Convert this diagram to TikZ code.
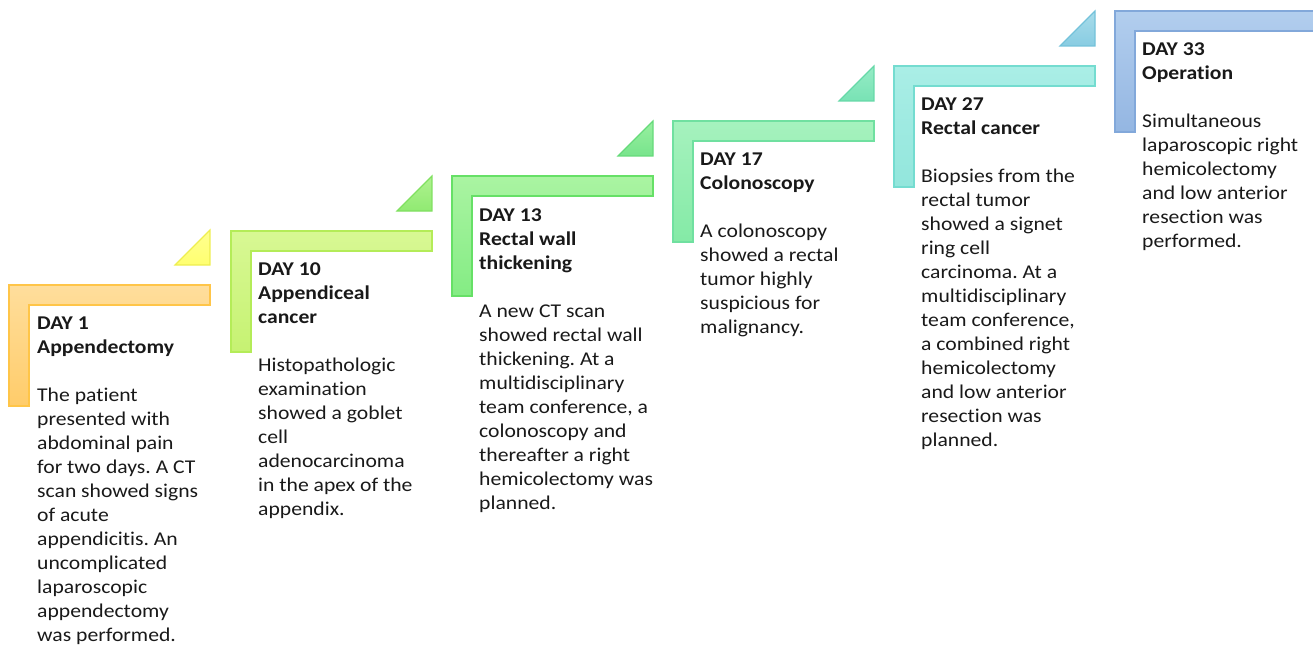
\documentclass[tikz,border=0pt]{standalone}
\usepackage{fontspec}
\setmainfont{Carlito}[FakeStretch=1.11, Ligatures=NoCommon]
\frenchspacing
\definecolor{aT}{HTML}{FFDE9C}\definecolor{aB}{HTML}{FFCC6A}\definecolor{aD}{HTML}{FFC548}
\definecolor{atT}{HTML}{FFFF90}\definecolor{atB}{HTML}{FFFF70}\definecolor{atD}{HTML}{EEEE50}
\definecolor{bT}{HTML}{D8F894}\definecolor{bB}{HTML}{C6F272}\definecolor{bD}{HTML}{B4EC58}
\definecolor{btT}{HTML}{B0F290}\definecolor{btB}{HTML}{90EA72}\definecolor{btD}{HTML}{80E060}
\definecolor{cT}{HTML}{AAF4A2}\definecolor{cB}{HTML}{84EC84}\definecolor{cD}{HTML}{66E066}
\definecolor{ctT}{HTML}{98F0A0}\definecolor{ctB}{HTML}{78E48C}\definecolor{ctD}{HTML}{66DA7A}
\definecolor{dT}{HTML}{A6F2BE}\definecolor{dB}{HTML}{84EAA6}\definecolor{dD}{HTML}{70E0A0}
\definecolor{dtT}{HTML}{96ECC6}\definecolor{dtB}{HTML}{78E2B4}\definecolor{dtD}{HTML}{66D8A8}
\definecolor{eT}{HTML}{AAEEE6}\definecolor{eB}{HTML}{92E6DC}\definecolor{eD}{HTML}{74DCD0}
\definecolor{etT}{HTML}{A8DCEA}\definecolor{etB}{HTML}{88CCE2}\definecolor{etD}{HTML}{74C2DA}
\definecolor{fT}{HTML}{B2CEEE}\definecolor{fB}{HTML}{94B6E2}\definecolor{fD}{HTML}{82A8DA}
\newcommand\stepL[5]{%
  \draw[stepbar, draw=#5D, top color=#5T, bottom color=#5B]
    (#1,#2) -- (#3,#2) -- (#3,#2+20) -- (#1+20,#2+20) -- (#1+20,#4) -- (#1,#4) -- cycle;}
\newcommand\stepTri[3]{%
  \draw[stepbar, draw=#3D, top color=#3T, bottom color=#3B]
    (#1,#2-55) -- (#1,#2-20) -- (#1-35,#2-20) -- cycle;}
\begin{document}
\begin{tikzpicture}[x=1bp,y=-1bp,
  stepbar/.style={line width=1.1bp, line join=miter},
  steptext/.style={anchor=north west, inner sep=0pt, align=left,
    font=\fontsize{19.5bp}{24bp}\selectfont\frenchspacing, text=black!90}]
\useasboundingbox (0,0) rectangle (1313,646);
% L-shaped bars
\stepL{9}{285}{210}{406}{a}
\stepTri{210}{285}{at}
\stepL{231}{231}{432}{352}{b}
\stepTri{432}{231}{bt}
\stepL{452}{176}{653}{296}{c}
\stepTri{653}{176}{ct}
\stepL{673}{121}{874}{242}{d}
\stepTri{874}{121}{dt}
\stepL{894}{66}{1095}{187}{e}
\stepTri{1095}{66}{et}
\stepL{1115}{11}{1330}{132}{f}
% texts
\node[steptext] (t1) at (37,316.5) {\textbf{DAY 1}\\\textbf{Appendectomy}\\[24bp]
The patient\\presented with\\abdominal pain\\for two days. A CT\\scan showed signs\\of acute\\appendicitis. An\\uncomplicated\\laparoscopic\\appendectomy\\was performed.};
\node[steptext] (t2) at (258,262.5) {\textbf{DAY 10}\\\textbf{Appendiceal}\\\textbf{cancer}\\[24bp]
Histopathologic\\examination\\showed a goblet\\cell\\adenocarcinoma\\in the apex of the\\appendix.};
\node[steptext] (t3) at (479,208.5) {\textbf{DAY 13}\\\textbf{Rectal wall}\\\textbf{thickening}\\[24bp]
A new CT scan\\showed rectal wall\\thickening. At a\\multidisciplinary\\team conference, a\\colonoscopy and\\thereafter a right\\hemicolectomy was\\planned.};
\node[steptext] (t4) at (700,152.5) {\textbf{DAY 17}\\\textbf{Colonoscopy}\\[24bp]
A colonoscopy\\showed a rectal\\tumor highly\\suspicious for\\malignancy.};
\node[steptext] (t5) at (921,97.5) {\textbf{DAY 27}\\\textbf{Rectal cancer}\\[24bp]
Biopsies from the\\rectal tumor\\showed a signet\\ring cell\\carcinoma. At a\\multidisciplinary\\team conference,\\a combined right\\hemicolectomy\\and low anterior\\resection was\\planned.};
\node[steptext] (t6) at (1142,42.5) {\textbf{DAY 33}\\\textbf{Operation}\\[24bp]
Simultaneous\\laparoscopic right\\hemicolectomy\\and low anterior\\resection was\\performed.};
\end{tikzpicture}
\end{document}
